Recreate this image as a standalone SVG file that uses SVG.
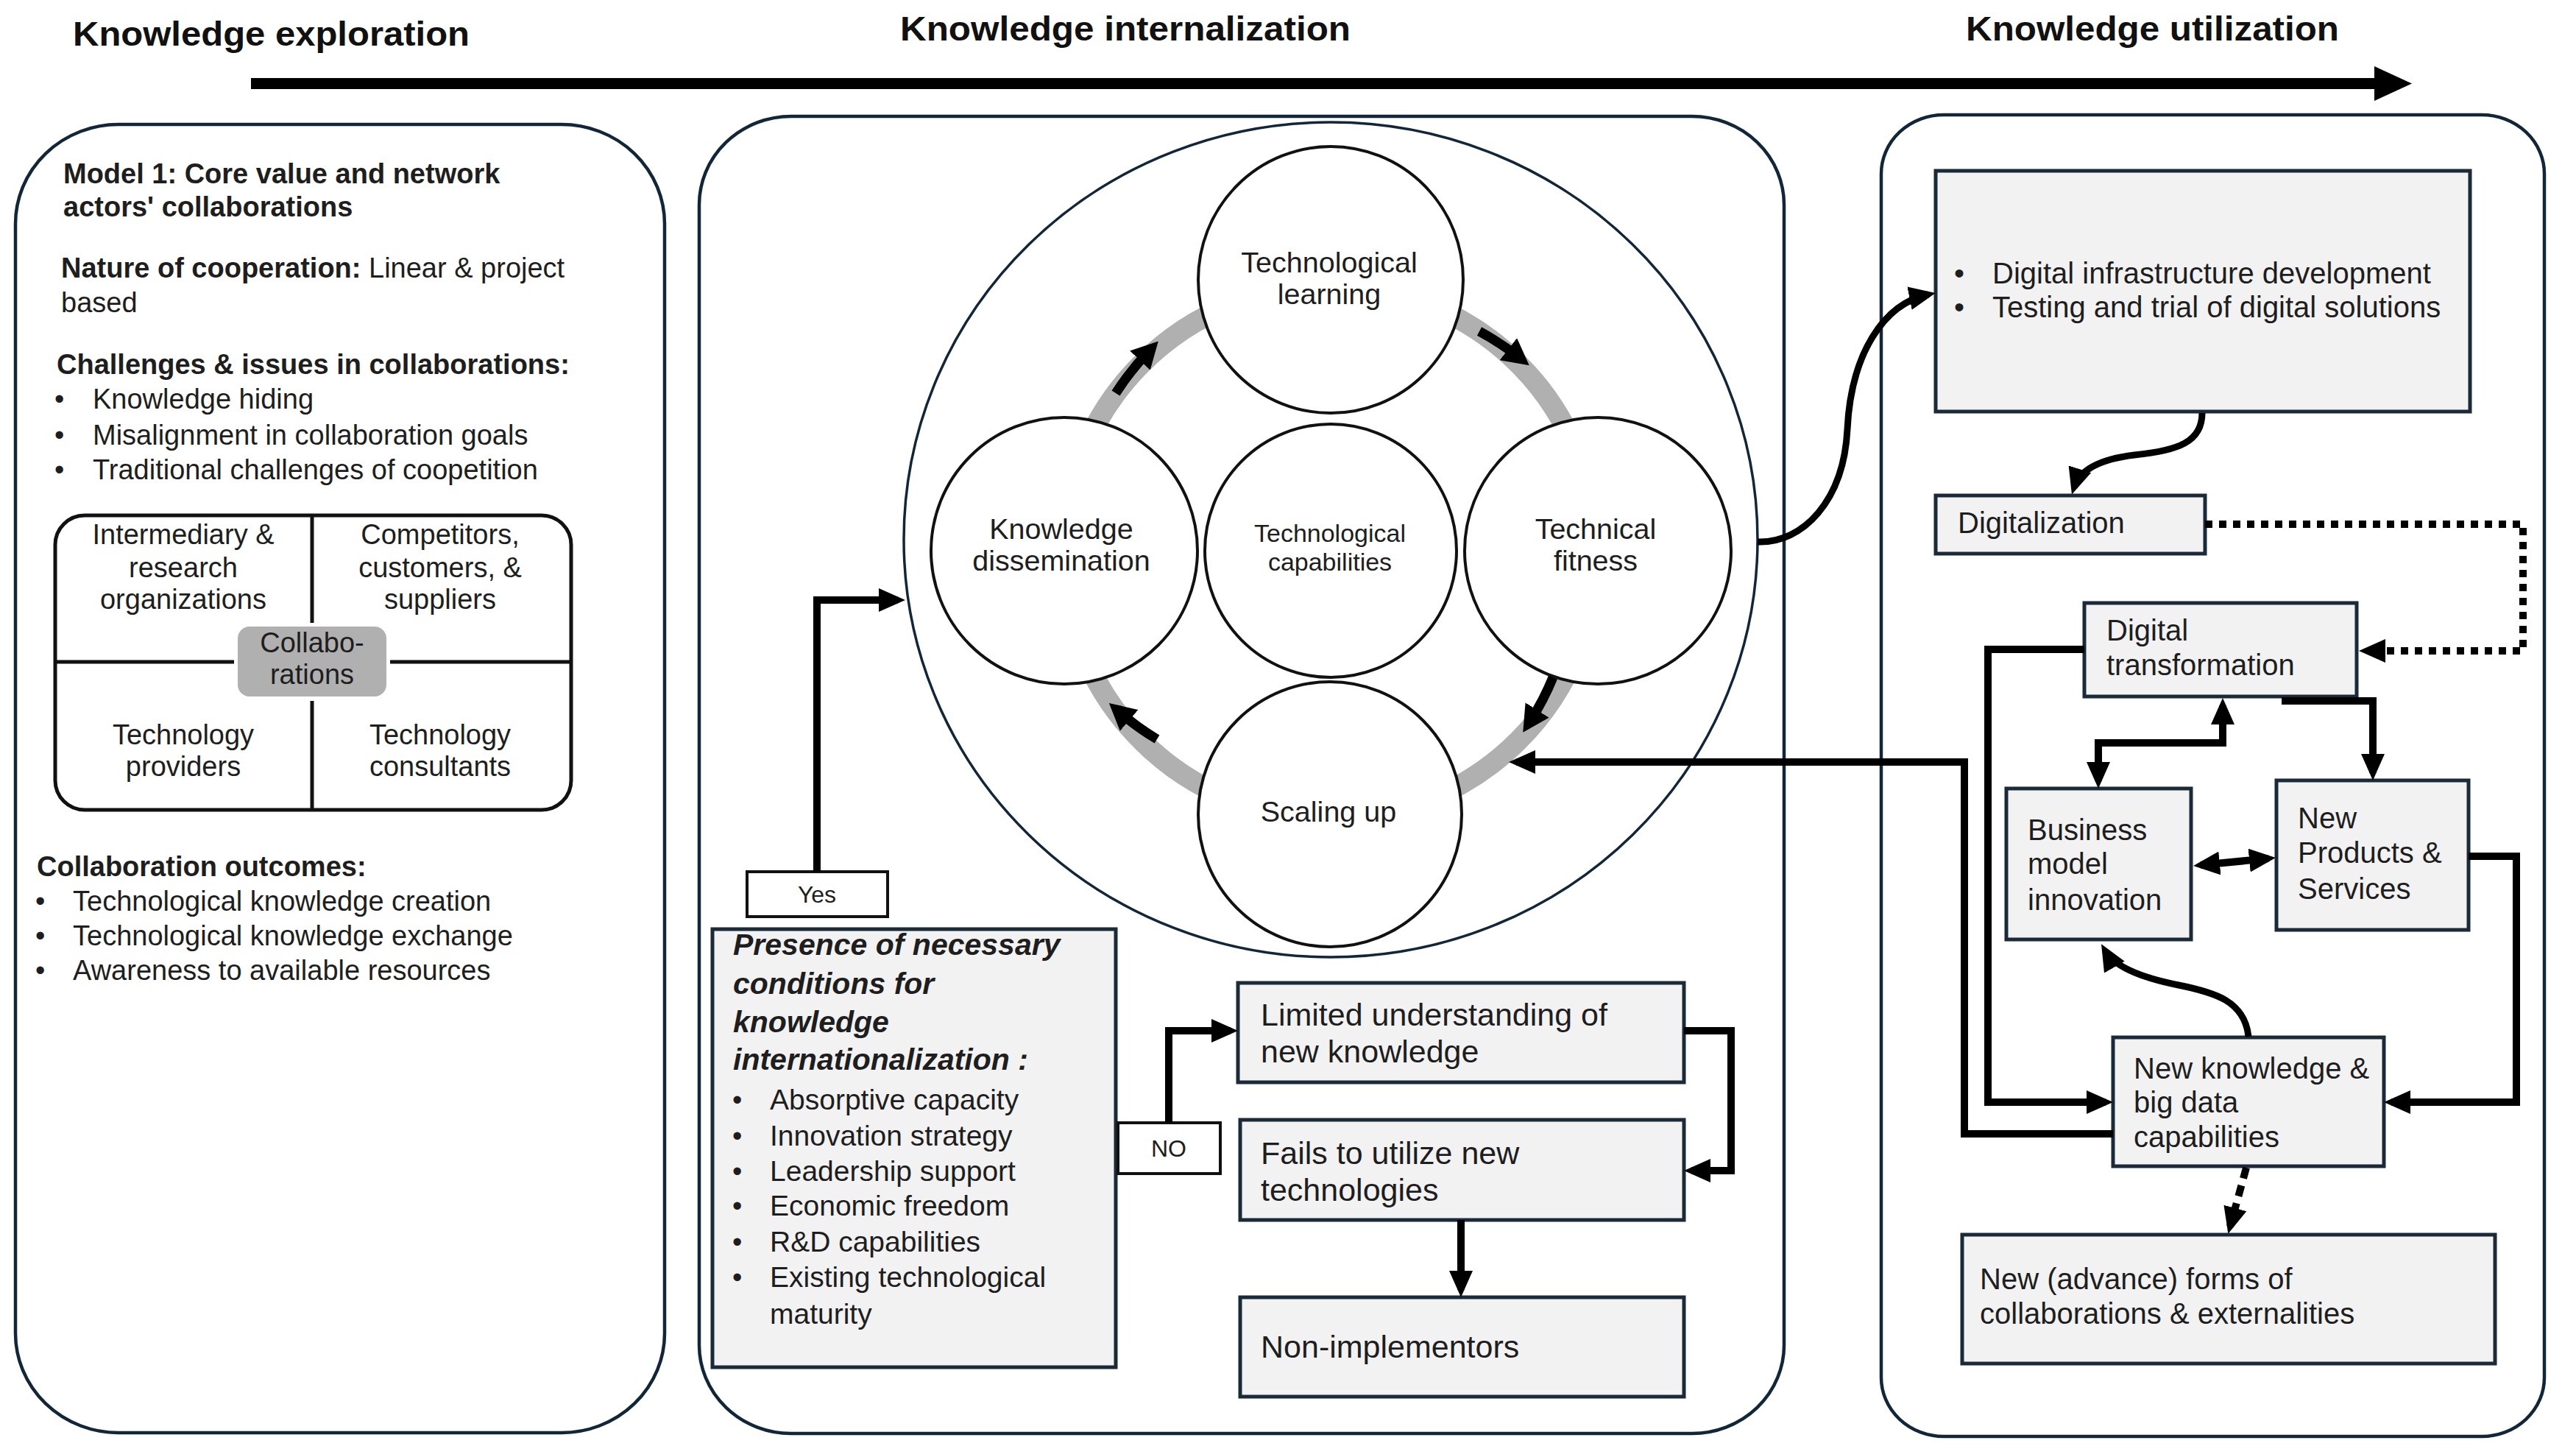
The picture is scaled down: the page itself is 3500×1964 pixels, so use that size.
<svg xmlns="http://www.w3.org/2000/svg" width="3500" height="1964" viewBox="0 0 3500 1964">
<defs>
<style>
text{font-family:"Liberation Sans",Arial,sans-serif;fill:#1e1e1e}
.t{font-size:38px}
.b{font-weight:bold}
.h{font-size:46px;font-weight:bold;fill:#111}
.m{text-anchor:middle}
.c{font-size:39.5px}
.r{font-size:40px}
.panel{fill:#fff;stroke:#12263a;stroke-width:4.5}
.box{fill:#f2f2f2;stroke:#1b2a38;stroke-width:5}
.wbox{fill:#fff;stroke:#111;stroke-width:4}
.circ{fill:#fff;stroke:#111;stroke-width:4}
.con{fill:none;stroke:#000;stroke-width:10}
.dot{fill:none;stroke:#000;stroke-width:10;stroke-dasharray:10 9}
.ring{fill:none;stroke:#b0b0b0;stroke-width:28}
.rarr{fill:none;stroke:#000;stroke-width:13}
</style>
<marker id="ah" markerUnits="userSpaceOnUse" markerWidth="36" markerHeight="32" viewBox="0 0 36 32" refX="26" refY="16" orient="auto-start-reverse"><path d="M0,0 L36,16 L0,32 z" fill="#000"/></marker>
<marker id="ahs" markerUnits="userSpaceOnUse" markerWidth="36" markerHeight="38" viewBox="0 0 36 38" refX="16" refY="19" orient="auto"><path d="M0,0 L36,19 L0,38 z" fill="#000"/></marker>
</defs>
<rect width="3500" height="1964" fill="#fff"/>

<g id="header">
<text class="h" x="99" y="62" textLength="539" lengthAdjust="spacingAndGlyphs">Knowledge exploration</text>
<text class="h" x="1223" y="55" textLength="612" lengthAdjust="spacingAndGlyphs">Knowledge internalization</text>
<text class="h" x="2671" y="55" textLength="507" lengthAdjust="spacingAndGlyphs">Knowledge utilization</text>
<rect x="341" y="106" width="2890" height="15" fill="#000"/>
<polygon points="3226,90 3277,113.5 3226,137" fill="#000"/>
</g>

<g id="panel-exploration">
<rect class="panel" x="21" y="169" width="882" height="1777" rx="140" ry="135"/>
<text class="t b" x="86" y="249">Model 1: Core value and network</text>
<text class="t b" x="86" y="294">actors' collaborations</text>
<text class="t" x="83" y="377"><tspan class="b">Nature of cooperation:</tspan> Linear &amp; project</text>
<text class="t" x="83" y="424">based</text>
<text class="t b" x="77" y="508">Challenges &amp; issues in collaborations:</text>
<text class="t" x="74" y="555">•</text><text class="t" x="126" y="555">Knowledge hiding</text>
<text class="t" x="74" y="604">•</text><text class="t" x="126" y="604">Misalignment in collaboration goals</text>
<text class="t" x="74" y="651">•</text><text class="t" x="126" y="651">Traditional challenges of coopetition</text>
<text class="t b" x="50" y="1190">Collaboration outcomes:</text>
<text class="t" x="48" y="1237">•</text><text class="t" x="99" y="1237">Technological knowledge creation</text>
<text class="t" x="48" y="1284">•</text><text class="t" x="99" y="1284">Technological knowledge exchange</text>
<text class="t" x="48" y="1331">•</text><text class="t" x="99" y="1331">Awareness to available resources</text>
</g>

<g id="collaborations-grid">
<rect x="75" y="700" width="701" height="400" rx="40" fill="#fff" stroke="#111" stroke-width="5"/>
<line x1="424" y1="700" x2="424" y2="846" stroke="#111" stroke-width="5"/>
<line x1="424" y1="952" x2="424" y2="1100" stroke="#111" stroke-width="5"/>
<line x1="75" y1="899" x2="318" y2="899" stroke="#111" stroke-width="5"/>
<line x1="530" y1="899" x2="776" y2="899" stroke="#111" stroke-width="5"/>
<rect x="323" y="851" width="202" height="95" rx="16" fill="#b0b0b0"/>
<text class="t m" x="424" y="886">Collabo-</text>
<text class="t m" x="424" y="929">rations</text>
<text class="t m" x="249" y="739">Intermediary &amp;</text>
<text class="t m" x="249" y="784">research</text>
<text class="t m" x="249" y="827">organizations</text>
<text class="t m" x="598" y="739">Competitors,</text>
<text class="t m" x="598" y="784">customers, &amp;</text>
<text class="t m" x="598" y="827">suppliers</text>
<text class="t m" x="249" y="1011">Technology</text>
<text class="t m" x="249" y="1054">providers</text>
<text class="t m" x="598" y="1011">Technology</text>
<text class="t m" x="598" y="1054">consultants</text>
</g>

<g id="panel-internalization">
<rect class="panel" x="950" y="158" width="1474" height="1789" rx="125" ry="120"/>
</g>

<g id="cycle">
<ellipse cx="1808" cy="733" rx="580" ry="567" fill="#fff" stroke="#12263a" stroke-width="3.5"/>
<circle class="ring" cx="1807" cy="750" r="362"/>
<g id="node-learning"><ellipse class="circ" cx="1808" cy="380" rx="180" ry="181"/>
<text class="c m" x="1806" y="370">Technological</text><text class="c m" x="1806" y="413">learning</text></g>
<g id="node-dissemination"><ellipse class="circ" cx="1446" cy="748" rx="181" ry="181"/>
<text class="c m" x="1442" y="732">Knowledge</text><text class="c m" x="1442" y="775">dissemination</text></g>
<g id="node-capabilities"><ellipse class="circ" cx="1808" cy="748" rx="171" ry="172"/>
<text class="m" style="font-size:34px" x="1807" y="736">Technological</text><text class="m" style="font-size:34px" x="1807" y="775">capabilities</text></g>
<g id="node-fitness"><ellipse class="circ" cx="2171" cy="748" rx="181" ry="181"/>
<text class="c m" x="2168" y="732">Technical</text><text class="c m" x="2168" y="775">fitness</text></g>
<g id="node-scaling"><ellipse class="circ" cx="1807" cy="1106" rx="179" ry="180"/>
<text class="c m" x="1805" y="1116">Scaling up</text></g>
</g>

<g id="ring-arrows">
<path class="rarr" marker-end="url(#ahs)" d="M1516 534 A375 375 0 0 1 1560 478"/>
<path class="rarr" marker-end="url(#ahs)" d="M2010 450 A370 370 0 0 1 2062 484"/>
<path class="rarr" marker-end="url(#ahs)" d="M2110 920 A360 360 0 0 1 2080 978"/>
<path class="rarr" marker-end="url(#ahs)" d="M1572 1004 A360 360 0 0 1 1522 968"/>
</g>

<g id="node-yes"><rect class="wbox" x="1015" y="1184" width="191" height="61"/>
<text class="m" style="font-size:32px" x="1110" y="1226">Yes</text></g>

<g id="node-presence">
<rect class="box" x="968" y="1262" width="548" height="595"/>
<text style="font-size:41px;font-weight:bold;font-style:italic" x="996" y="1297">Presence of necessary</text>
<text style="font-size:41px;font-weight:bold;font-style:italic" x="996" y="1350">conditions for</text>
<text style="font-size:41px;font-weight:bold;font-style:italic" x="996" y="1402">knowledge</text>
<text style="font-size:41px;font-weight:bold;font-style:italic" x="996" y="1453">internationalization :</text>
<text class="t" x="995" y="1507">•</text><text style="font-size:39px" x="1046" y="1507">Absorptive capacity</text>
<text class="t" x="995" y="1556">•</text><text style="font-size:39px" x="1046" y="1556">Innovation strategy</text>
<text class="t" x="995" y="1604">•</text><text style="font-size:39px" x="1046" y="1604">Leadership support</text>
<text class="t" x="995" y="1651">•</text><text style="font-size:39px" x="1046" y="1651">Economic freedom</text>
<text class="t" x="995" y="1700">•</text><text style="font-size:39px" x="1046" y="1700">R&amp;D capabilities</text>
<text class="t" x="995" y="1748">•</text><text style="font-size:39px" x="1046" y="1748">Existing technological</text>
<text style="font-size:39px" x="1046" y="1798">maturity</text>
</g>

<g id="node-no"><rect class="wbox" x="1519" y="1525" width="139" height="69"/>
<text class="m" style="font-size:32px" x="1588" y="1571">NO</text></g>

<g id="node-limited"><rect class="box" x="1682" y="1335" width="606" height="135"/>
<text style="font-size:43px" x="1713" y="1393">Limited understanding of</text>
<text style="font-size:43px" x="1713" y="1443">new knowledge</text></g>
<g id="node-fails"><rect class="box" x="1685" y="1521" width="603" height="136"/>
<text style="font-size:43px" x="1713" y="1581">Fails to utilize new</text>
<text style="font-size:43px" x="1713" y="1631">technologies</text></g>
<g id="node-non"><rect class="box" x="1685" y="1762" width="603" height="135"/>
<text style="font-size:43px" x="1713" y="1844">Non-implementors</text></g>

<g id="panel-utilization">
<rect class="panel" x="2556" y="156" width="901" height="1795" rx="85" ry="80"/>
</g>

<g id="node-infra"><rect class="box" x="2630" y="232" width="726" height="327"/>
<text class="r" x="2655" y="385">•</text><text class="r" x="2707" y="385">Digital infrastructure development</text>
<text class="r" x="2655" y="431">•</text><text class="r" x="2707" y="431">Testing and trial of digital solutions</text></g>
<g id="node-digitalization"><rect class="box" x="2630" y="673" width="366" height="79"/>
<text class="r" x="2660" y="724">Digitalization</text></g>
<g id="node-dt"><rect class="box" x="2832" y="819" width="370" height="127"/>
<text class="r" x="2862" y="870">Digital</text><text class="r" x="2862" y="917">transformation</text></g>
<g id="node-bmi"><rect class="box" x="2726" y="1071" width="251" height="205"/>
<text class="r" x="2755" y="1141">Business</text><text class="r" x="2755" y="1187">model</text><text class="r" x="2755" y="1236">innovation</text></g>
<g id="node-nps"><rect class="box" x="3093" y="1060" width="261" height="203"/>
<text class="r" x="3122" y="1125">New</text><text class="r" x="3122" y="1172">Products &amp;</text><text class="r" x="3122" y="1221">Services</text></g>
<g id="node-nk"><rect class="box" x="2871" y="1409" width="368" height="175"/>
<text class="r" x="2899" y="1465">New knowledge &amp;</text><text class="r" x="2899" y="1511">big data</text><text class="r" x="2899" y="1558">capabilities</text></g>
<g id="node-advance"><rect class="box" x="2666" y="1677" width="724" height="175"/>
<text class="r" x="2690" y="1751">New (advance) forms of</text><text class="r" x="2690" y="1798">collaborations &amp; externalities</text></g>

<g id="connectors">
<path class="con" marker-end="url(#ah)" d="M1110 1184 V815 H1220"/>
<path class="con" marker-end="url(#ah)" d="M1588 1525 V1400 H1672"/>
<path class="con" marker-end="url(#ah)" d="M2288 1400 H2352 V1590 H2298"/>
<path class="con" marker-end="url(#ah)" d="M1985 1657 V1752"/>
<path class="con" style="stroke-width:9" marker-end="url(#ah)" d="M2388 736 C2450 738 2505 680 2510 583 C2515 480 2560 412 2620 400"/>
<path class="con" style="stroke-width:9" marker-end="url(#ah)" d="M2992 561 C2992 600 2960 612 2900 618 C2850 624 2825 640 2818 662"/>
<path class="dot" marker-end="url(#ah)" d="M2996 712 H3428 V884 H3215"/>
<path class="con" marker-end="url(#ah)" d="M2832 882 H2701 V1497 H2861"/>
<path class="con" marker-end="url(#ah)" d="M2871 1540 H2669 V1035 H2060"/>
<path class="con" marker-end="url(#ah)" d="M3100 952 H3224 V1050"/>
<path class="con" marker-start="url(#ah)" marker-end="url(#ah)" d="M3020 958 V1009 H2851 V1061"/>
<path class="con" marker-start="url(#ah)" marker-end="url(#ah)" d="M2990 1175 L3082 1166"/>
<path class="con" marker-end="url(#ah)" d="M3354 1163 H3419 V1497 H3249"/>
<path class="con" style="stroke-width:9" marker-end="url(#ah)" d="M3055 1408 C3050 1360 3010 1348 2960 1338 C2905 1327 2872 1312 2860 1291"/>
<path class="dot" style="stroke-dasharray:15 10" marker-end="url(#ah)" d="M3052 1586 L3030 1666"/>
</g>
</svg>
